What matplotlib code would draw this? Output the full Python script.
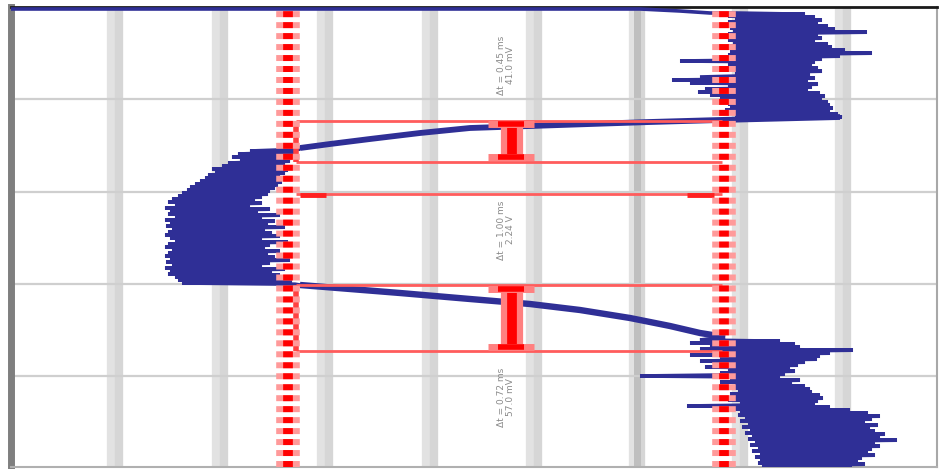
import matplotlib
matplotlib.use("Agg")
import matplotlib.pyplot as plt

plt.rcParams['lines.scale_dashes'] = False

# ---------------- data (arbitrary units) ----------------
value_range = (11, 937)          # horizontal value axis
time_range = (467, 7)            # vertical time axis (time runs downward)
grid_values = [115, 220, 325, 430, 534, 637, 740, 843]
grid_times = [99, 192, 284, 376]

# flat start of the trace along the top
start_t = [9, 9, 11, 13]
start_v = [11, 640, 680, 710]

# noisy burst 1 (rows: time, left extreme, right extreme)
burst1_t = [13, 16, 19, 22, 25, 28, 31, 34, 37, 40, 43, 46, 49, 52, 55, 58, 61, 64,
            67, 70, 73, 77, 80, 83, 86, 89, 92, 95, 98, 101, 104, 107, 110, 113, 116]
burst1_lo = [735, 728, 735, 728, 735, 730, 733, 728, 735, 728, 733, 728, 735, 730, 728,
             735, 680, 728, 733, 728, 735, 700, 672, 690, 728, 705, 698, 710, 720, 715,
             728, 730, 725, 730, 735]
burst1_hi = [805, 815, 822, 818, 828, 835, 867, 818, 822, 815, 828, 832, 845, 872, 840,
             822, 815, 812, 818, 822, 810, 815, 808, 818, 812, 808, 820, 825, 822, 828,
             830, 833, 830, 838, 842]

# ramp down-left
ramp1_t = [117, 119, 120, 122, 125, 128, 133, 139, 144, 148]
ramp1_v = [840, 760, 720, 650, 560, 470, 420, 370, 330, 300]

# noisy burst 2
burst2_t = [148, 151, 154, 157, 160, 163, 166, 169, 172, 175, 178, 181, 184, 187, 190,
            193, 196, 199, 202, 205, 208, 211, 214, 217, 220, 223, 226, 229, 232, 235,
            238, 241, 244, 247, 250, 253, 256, 259, 262, 265, 268, 271, 274, 277, 280,
            283]
burst2_lo = [290, 250, 238, 232, 240, 228, 222, 212, 215, 208, 205, 200, 195, 190, 187,
             182, 178, 172, 168, 175, 165, 170, 168, 175, 165, 170, 166, 172, 168, 165,
             170, 175, 168, 165, 172, 168, 165, 170, 166, 172, 165, 170, 168, 175, 178,
             182]
burst2_hi = [300, 295, 290, 292, 290, 285, 290, 288, 285, 280, 284, 282, 278, 275, 270,
             268, 262, 255, 262, 250, 270, 258, 280, 262, 275, 268, 285, 265, 272, 280,
             262, 288, 270, 265, 280, 268, 275, 290, 270, 262, 285, 272, 280, 288, 292,
             295]

# ramp down-right
ramp2_t = [285, 289, 293, 299, 304, 310, 318, 326, 333, 337]
ramp2_v = [300, 350, 400, 470, 530, 580, 630, 670, 700, 725]

# noisy burst 3
burst3_t = [340, 343, 346, 349, 352, 355, 358, 361, 364, 367, 370, 373, 376, 379, 382,
            385, 388, 391, 394, 397, 400, 403, 406, 409, 412, 415, 418, 421, 424, 427,
            430, 433, 436, 439, 442, 445, 448, 451, 454, 457, 460, 463, 466]
burst3_lo = [700, 690, 710, 700, 715, 690, 720, 700, 725, 705, 728, 720, 640, 730, 720,
             735, 725, 738, 730, 735, 728, 740, 687, 735, 740, 738, 745, 740, 748, 742,
             750, 745, 752, 748, 755, 750, 758, 752, 760, 755, 760, 758, 762]
burst3_hi = [780, 795, 800, 853, 830, 820, 817, 805, 798, 790, 795, 785, 780, 800, 792,
             805, 810, 812, 820, 823, 818, 815, 830, 850, 868, 880, 872, 865, 878, 870,
             875, 885, 880, 897, 875, 880, 872, 868, 875, 862, 858, 865, 850]

# cursors / measurement boxes
cursor_values = [288, 724]
box_left, box_right = 296, 722
boxes = [(121, 162), (285, 351)]
single_marker_t = 194
ibeam_value = 512
ibeams = [(122, 159), (287, 349)]
label_times = [65, 230, 397]
labels = ["\u0394t = 0.45 ms\n41.0 mV", "\u0394t = 1.00 ms\n2.24 V", "\u0394t = 0.72 ms\n57.0 mV"]

# ---------------- build trace path ----------------
def burst(ts, lo, hi):
    pv, pt = [], []
    for t, a, b in zip(ts, lo, hi):
        pv += [a, b]
        pt += [t, t + 1.2]
    return pv, pt

trace_v, trace_t = list(start_v), list(start_t)
for seg in [burst(burst1_t, burst1_lo, burst1_hi), (ramp1_v, ramp1_t),
            burst(burst2_t, burst2_lo, burst2_hi), (ramp2_v, ramp2_t),
            burst(burst3_t, burst3_lo, burst3_hi)]:
    trace_v += list(seg[0])
    trace_t += list(seg[1])

# ---------------- figure ----------------
fig = plt.figure(figsize=(9.39, 4.69), dpi=100)
ax = fig.add_axes([11 / 939, 2 / 469, 926 / 939, 460 / 469])
ax.set_xlim(*value_range)
ax.set_ylim(*time_range)
ax.set_xticks([])
ax.set_yticks([])
ax.set_facecolor('white')

# grid bands
for g in grid_values:
    ax.axvline(g - 4, color='#e2e2e2', lw=6, zorder=1)
    ax.axvline(g + 4, color='#d6d6d6', lw=6, zorder=1)
ax.axvline(grid_values[5], color='#bfbfbf', lw=5, zorder=1)
for g in grid_times:
    ax.axhline(g, color='#cfcfcf', lw=1.6, zorder=1.5)

# labels
for tt, lab in zip(label_times, labels):
    ax.text(ibeam_value - 6, tt, lab, rotation=90, ha='center', va='center',
            fontsize=6.5, color='#8a8a8a', zorder=2, linespacing=1.1)

# trace
ax.plot(trace_v, trace_t, color='#2f2f96', lw=2.6, solid_joinstyle='miter',
        zorder=3)
ax.plot(ramp1_v, ramp1_t, color='#2f2f96', lw=4.2, solid_capstyle='butt', zorder=3)
ax.plot(ramp2_v, ramp2_t, color='#2f2f96', lw=4.6, solid_capstyle='butt', zorder=3)

# boxes
for (t0, t1) in boxes:
    ax.hlines([t0, t1], box_left, box_right, color='#ff5c5c', lw=2.0, zorder=4)
    ax.vlines(box_left, t0, t1, color='#ff4040', lw=4, zorder=4)
ax.hlines(single_marker_t, box_left, box_right, color='#ff5c5c', lw=2.0, zorder=4)
for (a, b) in [(box_left + 4, box_left + 30), (box_right - 35, box_right - 8)]:
    ax.hlines(single_marker_t + 1, a, b, color='#ff2020', lw=3.5, zorder=4)

# I-beams
for (t0, t1) in ibeams:
    ax.vlines(ibeam_value, t0, t1, color='#ff8080', lw=16, zorder=5)
    ax.vlines(ibeam_value, t0, t1, color='#ff0000', lw=7, zorder=5)
    ax.hlines([t0 + 2, t1 - 2], ibeam_value - 24, ibeam_value + 22, color='#ff8080',
              lw=5, zorder=5)
    ax.hlines([t0 + 2, t1 - 2], ibeam_value - 14, ibeam_value + 12, color='#ff0000',
              lw=4, zorder=5)

# cursors
for c in cursor_values:
    ax.axvline(c, color='#ff9a9a', lw=17, dashes=(4.3, 3.6), zorder=6)
    ax.axvline(c, color='#ff0000', lw=7, dashes=(4.3, 3.6), zorder=6)

# spines
ax.spines['left'].set_color('#7f7f7f')
ax.spines['left'].set_linewidth(5)
ax.spines['top'].set_color('#1a1a1a')
ax.spines['top'].set_linewidth(2)
ax.spines['right'].set_color('#a8a8a8')
ax.spines['right'].set_linewidth(1.5)
ax.spines['bottom'].set_color('#b0b0b0')
ax.spines['bottom'].set_linewidth(1.5)

fig.savefig('out.png', dpi=100)
